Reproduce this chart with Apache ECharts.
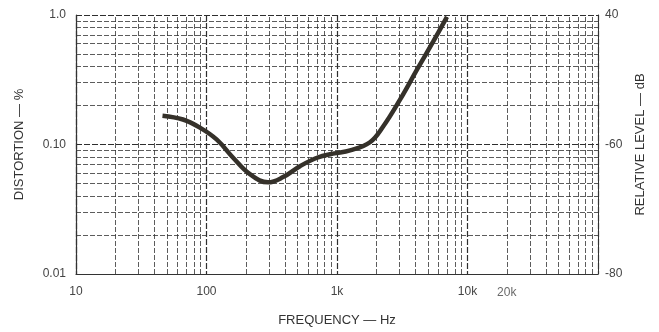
<!DOCTYPE html>
<html>
<head>
<meta charset="utf-8">
<script src="https://cdn.jsdelivr.net/npm/echarts@6/dist/echarts.min.js"></script>
<style>html,body{margin:0;padding:0;background:#fff}#c{width:659px;height:332px}</style>
</head>
<body>
<div id="c"></div>
<script>
// Data
const freqHz = [46, 66, 89, 120, 160, 215, 296, 386, 520, 703, 930, 1260, 1790, 2250, 3040, 4100, 5440, 6960];
const distortionPct = [0.167, 0.156, 0.135, 0.109, 0.079, 0.059, 0.051, 0.056, 0.068, 0.079, 0.085, 0.090, 0.104, 0.137, 0.222, 0.378, 0.62, 0.966];
const xTickLabels = {10: '10', 100: '100', 1000: '1k', 10000: '10k', 100000: ''};
const extraXLabel = {value: 20000, text: '20k'};
const yLeftLabels = {'1': '1.0', '0.1': '0.10', '0.01': '0.01'};
const yRightLabels = {'-40': '40', '-60': '-60', '-80': '-80'};
// log-paper minor grid
const gridMultipliers = [2, 3, 4, 5, 6, 7, 8, 9];
const xDecades = [10, 100, 1000, 10000];
const yDecades = [0.01, 0.1];

const xGrid = [];
xDecades.forEach(d => gridMultipliers.forEach(m => xGrid.push(+(d * m).toPrecision(6))));
const yGrid = [];
yDecades.forEach(d => gridMultipliers.forEach(m => yGrid.push(+(d * m).toPrecision(6))));

const gridStyle = {color: '#333', width: 1, type: [5, 2], opacity: 0.8};
const markData = [];
xGrid.forEach(v => {
  const item = {xAxis: v, lineStyle: gridStyle};
  if (v === extraXLabel.value) {
    item.label = {show: true, position: 'start', formatter: extraXLabel.text, color: '#444', fontSize: 12, distance: 13, fontFamily: 'Liberation Sans'};
  }
  markData.push(item);
});
yGrid.forEach(v => markData.push({yAxis: v, lineStyle: gridStyle}));

const chart = echarts.init(document.getElementById('c'), null, {renderer: 'canvas'});
const font = 'Liberation Sans';
chart.setOption({
  animation: false,
  backgroundColor: '#fff',
  grid: {left: 76, right: 61, top: 15, bottom: 57, containLabel: false},
  xAxis: {
    type: 'log', logBase: 10, min: 10, max: 100000,
    name: 'FREQUENCY — Hz', nameLocation: 'middle', nameGap: 40,
    nameTextStyle: {fontFamily: font, fontSize: 13, color: '#333'},
    axisLine: {show: true, lineStyle: {color: '#333', width: 1.2}},
    axisTick: {show: false},
    axisLabel: {
      margin: 12, color: '#444', fontSize: 12, fontFamily: font,
      formatter: v => { const k = Math.round(v); return xTickLabels[k] !== undefined ? xTickLabels[k] : ''; }
    },
    splitLine: {show: true, lineStyle: {color: '#2e2e2e', width: 1.2, type: [6, 2]}},
    minorTick: {show: false}
  },
  yAxis: [{
    type: 'log', logBase: 10, min: 0.01, max: 1, position: 'left',
    name: 'DISTORTION — %', nameLocation: 'middle', nameGap: 50, nameRotate: 90,
    nameTextStyle: {fontFamily: font, fontSize: 13, color: '#333'},
    axisLine: {show: true, lineStyle: {color: '#333', width: 1.2}},
    axisTick: {show: false},
    axisLabel: {
      margin: 10, color: '#444', fontSize: 12, fontFamily: font,
      formatter: v => { const k = String(+v.toPrecision(3)); return yLeftLabels[k] || ''; }
    },
    splitLine: {show: true, lineStyle: {color: '#2e2e2e', width: 1.2, type: [6, 2]}}
  }, {
    type: 'value', min: -80, max: -40, interval: 20, position: 'right',
    name: 'RELATIVE LEVEL — dB', nameLocation: 'middle', nameGap: 36, nameRotate: 90,
    nameTextStyle: {fontFamily: font, fontSize: 13, color: '#333'},
    axisLine: {show: true, lineStyle: {color: '#333', width: 1}},
    axisTick: {show: false},
    axisLabel: {
      margin: 7, color: '#444', fontSize: 12, fontFamily: font,
      formatter: v => yRightLabels[String(v)] || ''
    },
    splitLine: {show: false}
  }],
  series: [{
    type: 'line',
    xAxisIndex: 0, yAxisIndex: 0,
    data: freqHz.map((f, i) => [f, distortionPct[i]]),
    smooth: 0.4,
    symbol: 'none',
    lineStyle: {color: '#35312a', width: 4.5},
    z: 5,
    markLine: {
      silent: true, symbol: 'none', animation: false,
      label: {show: false},
      data: markData,
      z: 1
    }
  }]
});
</script>
</body>
</html>
